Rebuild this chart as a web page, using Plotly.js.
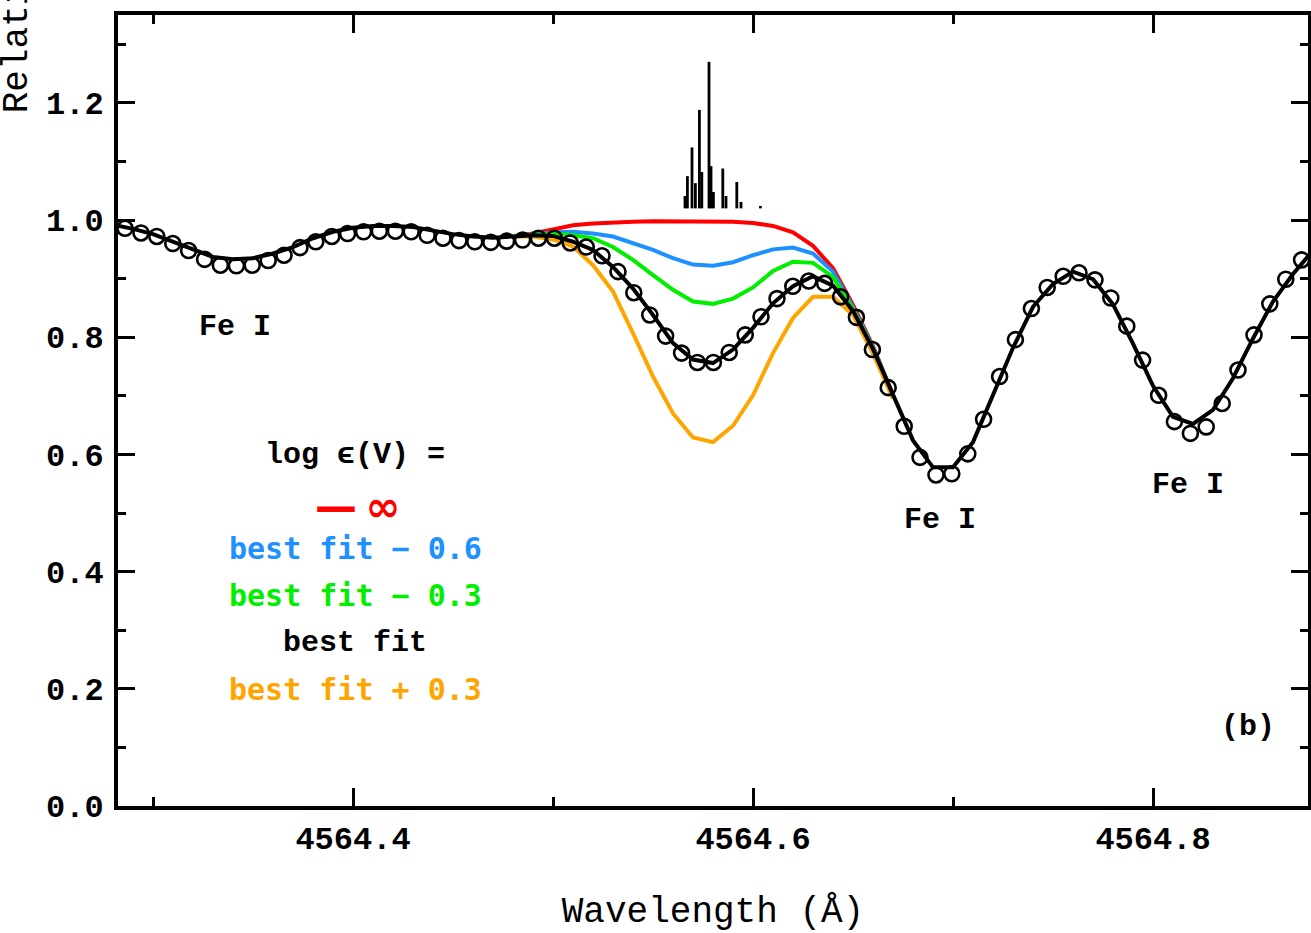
<!DOCTYPE html>
<html>
<head>
<meta charset="utf-8">
<script src="https://cdn.plot.ly/plotly-3.0.1.min.js"></script>
<style>
  html, body { margin: 0; padding: 0; background: #fff; }
  #chart { width: 1311px; height: 933px; }
</style>
</head>
<body>
<div id="chart"></div>
<script>
// Observed spectrum (wavelength in Angstrom, relative flux)
const obsWave = [
  4564.2860, 4564.2940, 4564.3019, 4564.3099, 4564.3178, 4564.3258, 4564.3337, 4564.3417,
  4564.3496, 4564.3576, 4564.3655, 4564.3735, 4564.3814, 4564.3894, 4564.3973, 4564.4053,
  4564.4132, 4564.4212, 4564.4291, 4564.4371, 4564.4450, 4564.4530, 4564.4609, 4564.4689,
  4564.4768, 4564.4848, 4564.4927, 4564.5007, 4564.5086, 4564.5166, 4564.5245, 4564.5325,
  4564.5404, 4564.5484, 4564.5563, 4564.5643, 4564.5722, 4564.5802, 4564.5881, 4564.5961,
  4564.6040, 4564.6120, 4564.6199, 4564.6279, 4564.6358, 4564.6438, 4564.6517, 4564.6597,
  4564.6676, 4564.6756, 4564.6835, 4564.6915, 4564.6994, 4564.7074, 4564.7153, 4564.7233,
  4564.7312, 4564.7392, 4564.7471, 4564.7551, 4564.7630, 4564.7710, 4564.7789, 4564.7869,
  4564.7948, 4564.8028, 4564.8107, 4564.8187, 4564.8266, 4564.8346, 4564.8425, 4564.8505,
  4564.8584, 4564.8664, 4564.8743
];
const obsFlux = [
  0.986, 0.978, 0.972, 0.960, 0.948, 0.933, 0.923, 0.922,
  0.923, 0.931, 0.940, 0.953, 0.963, 0.972, 0.977, 0.980,
  0.981, 0.981, 0.980, 0.974, 0.969, 0.965, 0.963, 0.962,
  0.964, 0.966, 0.969, 0.969, 0.961, 0.954, 0.939, 0.912,
  0.876, 0.838, 0.802, 0.773, 0.757, 0.757, 0.774, 0.804,
  0.835, 0.866, 0.887, 0.896, 0.892, 0.869, 0.834, 0.779,
  0.714, 0.648, 0.595, 0.565, 0.567, 0.601, 0.660, 0.733,
  0.796, 0.849, 0.885, 0.904, 0.910, 0.898, 0.867, 0.819,
  0.761, 0.701, 0.656, 0.636, 0.647, 0.687, 0.744, 0.804,
  0.857, 0.899, 0.932
];

// Synthetic spectrum, best-fit V abundance (0.01 A grid)
const synthWave = [
  4564.28, 4564.29, 4564.30, 4564.31, 4564.32, 4564.33, 4564.34, 4564.35, 4564.36, 4564.37,
  4564.38, 4564.39, 4564.40, 4564.41, 4564.42, 4564.43, 4564.44, 4564.45, 4564.46, 4564.47,
  4564.48, 4564.49, 4564.50, 4564.51, 4564.52, 4564.53, 4564.54, 4564.55, 4564.56, 4564.57,
  4564.58, 4564.59, 4564.60, 4564.61, 4564.62, 4564.63, 4564.64, 4564.65, 4564.66, 4564.67,
  4564.68, 4564.69, 4564.70, 4564.71, 4564.72, 4564.73, 4564.74, 4564.75, 4564.76, 4564.77,
  4564.78, 4564.79, 4564.80, 4564.81, 4564.82, 4564.83, 4564.84, 4564.85, 4564.86, 4564.87,
  4564.88
];
const bestFit = [
  0.992, 0.985, 0.976, 0.963, 0.950, 0.937, 0.933, 0.935, 0.943, 0.954,
  0.969, 0.980, 0.987, 0.990, 0.990, 0.988, 0.982, 0.976, 0.972, 0.970,
  0.972, 0.974, 0.973, 0.963, 0.949, 0.920, 0.883, 0.838, 0.790, 0.762,
  0.756, 0.779, 0.816, 0.858, 0.887, 0.904, 0.888, 0.845, 0.780, 0.700,
  0.624, 0.578, 0.578, 0.621, 0.703, 0.782, 0.852, 0.891, 0.912, 0.899,
  0.856, 0.789, 0.717, 0.664, 0.652, 0.676, 0.730, 0.798, 0.861, 0.908,
  0.948
];

// Alternative V abundances around the V I blend
const altWave = [
  4564.48, 4564.49, 4564.50, 4564.51, 4564.52, 4564.53, 4564.54, 4564.55, 4564.56, 4564.57,
  4564.58, 4564.59, 4564.60, 4564.61, 4564.62, 4564.63, 4564.64, 4564.65, 4564.66, 4564.67
];
const noV = [
  0.972, 0.977, 0.984, 0.991, 0.994, 0.996, 0.997, 0.998, 0.998, 0.998,
  0.998, 0.997, 0.995, 0.990, 0.979, 0.956, 0.918, 0.855, 0.785, 0.702
];
const minus06 = [
  0.972, 0.976, 0.979, 0.980, 0.977, 0.972, 0.961, 0.949, 0.935, 0.924,
  0.922, 0.928, 0.940, 0.950, 0.953, 0.943, 0.912, 0.851, 0.783, 0.701
];
const minus03 = [
  0.972, 0.975, 0.977, 0.974, 0.969, 0.954, 0.932, 0.906, 0.881, 0.861,
  0.857, 0.866, 0.885, 0.913, 0.929, 0.927, 0.903, 0.848, 0.781, 0.700
];
const plus03 = [
  0.972, 0.972, 0.967, 0.955, 0.923, 0.878, 0.807, 0.733, 0.670, 0.629,
  0.621, 0.649, 0.701, 0.773, 0.833, 0.869, 0.869, 0.838, 0.772, 0.695
];

// V I hyperfine components: wavelength and top of each tick mark
const vWave = [
  4564.5660, 4564.5672, 4564.5695, 4564.5712, 4564.5732, 4564.5744, 4564.5780,
  4564.5790, 4564.5802, 4564.5849, 4564.5865, 4564.5919, 4564.5940, 4564.6037
];
const vTop = [
  1.041, 1.075, 1.124, 1.063, 1.188, 1.082, 1.270,
  1.092, 1.048, 1.088, 1.041, 1.065, 1.031, 1.024
];
const vBase = 1.020;

// Axis settings
const xRange = [4564.2825, 4564.8775];
const yRange = [0, 1.35];
const xTitle = 'Wavelength (Å)';
const yTitle = 'Relative Flux';

const monoFont = '"Liberation Mono", "Courier New", monospace';
const sansMono = '"DejaVu Sans Mono", monospace';

const colRed = '#ff0000';
const colBlue = '#1e90ff';
const colGreen = '#00ee00';
const colOrange = '#ffa500';

// Build hyperfine stick segments
const stickX = [], stickY = [];
vWave.forEach((w, i) => {
  stickX.push(w, w, null);
  stickY.push(vBase, vTop[i], null);
});

const lineStyle = (c) => ({ color: c, width: 4, shape: 'linear' });

const traces = [
  { x: altWave, y: noV, mode: 'lines', line: lineStyle(colRed), hoverinfo: 'skip' },
  { x: altWave, y: minus06, mode: 'lines', line: lineStyle(colBlue), hoverinfo: 'skip' },
  { x: altWave, y: minus03, mode: 'lines', line: lineStyle(colGreen), hoverinfo: 'skip' },
  { x: altWave, y: plus03, mode: 'lines', line: lineStyle(colOrange), hoverinfo: 'skip' },
  { x: synthWave, y: bestFit, mode: 'lines', line: lineStyle('#000'), hoverinfo: 'skip' },
  { x: obsWave, y: obsFlux, mode: 'markers',
    marker: { symbol: 'circle-open', size: 15, color: '#000', line: { width: 2.6, color: '#000' } },
    hoverinfo: 'skip' },
  { x: stickX, y: stickY, mode: 'lines', line: { color: '#000', width: 2.8 }, hoverinfo: 'skip' }
];

const txt = (x, y, text, color, size, family, extra) => Object.assign({
  x: x, y: y, xref: 'x', yref: 'y', text: text, showarrow: false,
  xanchor: 'center', yanchor: 'middle',
  font: { family: family || monoFont, size: size || 30, color: color || '#000', weight: 'bold' }
}, extra || {});

const annotations = [
  txt(4564.341, 0.817, 'Fe I'),
  txt(4564.6935, 0.488, 'Fe I'),
  txt(4564.8175, 0.548, 'Fe I'),
  txt(4564.4008, 0.599, 'log ϵ(V) ='),
  txt(4564.4020, 0.511, '—\u2009∞', colRed, 42, '"DejaVu Sans", sans-serif'),
  txt(4564.4010, 0.439, 'best fit − 0.6', colBlue, 30, sansMono),
  txt(4564.4010, 0.359, 'best fit − 0.3', colGreen, 30, sansMono),
  txt(4564.4010, 0.279, 'best fit'),
  txt(4564.4010, 0.198, 'best fit + 0.3', colOrange, 30, sansMono),
  txt(4564.8475, 0.135, '(b)'),
  {
    x: -0.0849, y: 1.054, xref: 'paper', yref: 'paper', text: yTitle, showarrow: false,
    textangle: -90, xanchor: 'center', yanchor: 'middle',
    font: { family: monoFont, size: 36, color: '#000' }
  }
];

const axisCommon = {
  showline: true, linecolor: '#000', linewidth: 4, mirror: 'allticks',
  ticks: 'inside', tickcolor: '#000', tickwidth: 3,
  showgrid: false, zeroline: false, fixedrange: true,
  tickfont: { family: monoFont, size: 32, color: '#000', weight: 'bold' }
};

const layout = {
  width: 1311, height: 933,
  margin: { l: 118, r: 3, t: 15, b: 127 },
  paper_bgcolor: '#fff', plot_bgcolor: '#fff',
  showlegend: false,
  xaxis: Object.assign({}, axisCommon, {
    range: xRange, tickmode: 'linear', tick0: 4564.4, dtick: 0.2, tickformat: '.1f',
    ticklen: 18, ticklabelstandoff: 1,
    minor: { tickmode: 'linear', tick0: 4564.3, dtick: 0.1, ticks: 'inside', ticklen: 9, tickwidth: 3, tickcolor: '#000', showgrid: false },
    title: { text: xTitle, font: { family: monoFont, size: 36, color: '#000' }, standoff: 44 }
  }),
  yaxis: Object.assign({}, axisCommon, {
    range: yRange, tickmode: 'linear', tick0: 0, dtick: 0.2, tickformat: '.1f',
    ticklen: 17, ticklabelstandoff: 4,
    minor: { tickmode: 'linear', tick0: 0.1, dtick: 0.1, ticks: 'inside', ticklen: 8, tickwidth: 3, tickcolor: '#000', showgrid: false }
  }),
  annotations: annotations
};

Plotly.newPlot('chart', traces, layout, { staticPlot: true, displayModeBar: false });
</script>
</body>
</html>
